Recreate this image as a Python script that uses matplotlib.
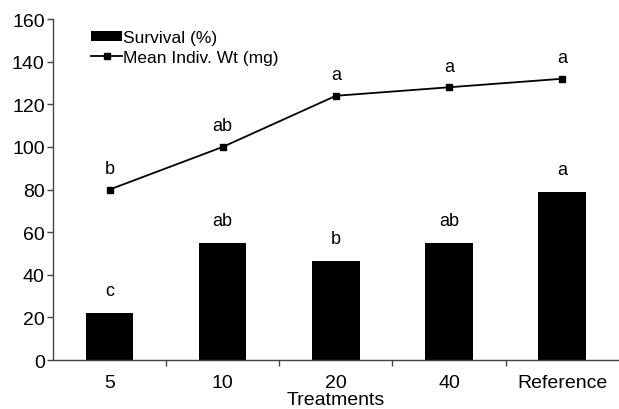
import matplotlib
matplotlib.use('Agg')
import matplotlib.pyplot as plt

treatments = ['5', '10', '20', '40', 'Reference']
survival = [22, 55, 46.5, 55, 79]
mean_wt = [80, 100, 124, 128, 132]
survival_letters = ['c', 'ab', 'b', 'ab', 'a']
wt_letters = ['b', 'ab', 'a', 'a', 'a']

plt.rcParams['font.family'] = ['Liberation Sans', 'DejaVu Sans']

fig = plt.figure(figsize=(6.19, 4.10), dpi=100)
ax = fig.add_axes([0.0856, 0.1195, 0.914, 0.8315])

x = list(range(len(treatments)))
bars = ax.bar(x, survival, width=0.42, color='black', label='Survival (%)')
line, = ax.plot(x, mean_wt, color='black', lw=1.3, marker='s', ms=5,
                label='Mean Indiv. Wt (mg)')

for xi, v, t in zip(x, survival, survival_letters):
    ax.annotate(t, (xi, v), xytext=(0, 10), textcoords='offset points',
                ha='center', va='bottom', fontsize=13)
for xi, v, t in zip(x, mean_wt, wt_letters):
    ax.annotate(t, (xi, v), xytext=(0, 9), textcoords='offset points',
                ha='center', va='bottom', fontsize=13)

ax.set_xlim(-0.5, 4.5)
ax.set_ylim(0, 160)
ax.set_yticks(range(0, 161, 20))
ax.tick_params(axis='y', labelsize=14, length=4, width=1, color='#444444', pad=2)
ax.set_xticks(x)
ax.set_xticklabels(treatments)
ax.tick_params(axis='x', which='major', length=0, labelsize=14, pad=10)
ax.set_xticks([0.5, 1.5, 2.5, 3.5], minor=True)
ax.tick_params(axis='x', which='minor', length=4, width=1, color='#444444')
ax.set_xlabel('Treatments', fontsize=14, labelpad=0)

for s in ['top', 'right']:
    ax.spines[s].set_visible(False)
for s in ['left', 'bottom']:
    ax.spines[s].set_color('#444444')
    ax.spines[s].set_linewidth(1)

leg = ax.legend([bars, line], ['Survival (%)', 'Mean Indiv. Wt (mg)'],
                loc='upper left', bbox_to_anchor=(0.055, 0.99), frameon=False,
                fontsize=12.5, handlelength=1.8, handletextpad=0.05,
                labelspacing=0.3, borderaxespad=0)
patch = leg.legend_handles[0]
patch.set_height(7)
patch.set_y(patch.get_y() + 0.5)

fig.savefig('out.png', dpi=100)
